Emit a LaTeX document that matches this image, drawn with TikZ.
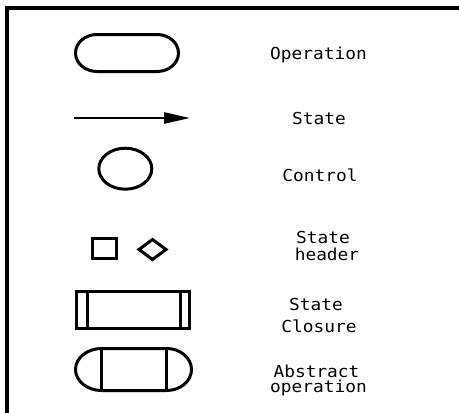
\documentclass[tikz,border=0pt]{standalone}
\usepackage{fontspec}
\newfontfamily\lblfont{DejaVu Sans Mono}
\usetikzlibrary{arrows.meta,shapes.geometric}
\newcommand{\wide}[1]{\scalebox{1.08}[1]{#1}}
\tikzset{
  shp/.style={draw=black, line width=3pt},
  lbl/.style={font=\lblfont\fontsize{16.5pt}{17pt}\selectfont, inner sep=0pt, anchor=base},
}
\begin{document}
\begin{tikzpicture}[x=1pt,y=-1pt]
\useasboundingbox (0,0) rectangle (459,413);
% frame
\draw[line width=4pt, line cap=butt, line join=miter] (7,413) -- (7,8) -- (459,8);
% Operation
\draw[shp] (97,34.5) -- (157,34.5) arc[start angle=-90, end angle=90, x radius=21.5, y radius=18.5] -- (97,71.5) arc[start angle=90, end angle=270, x radius=21.5, y radius=18.5] -- cycle;
\node[lbl] (op) at (318.5,59) {\wide{Operation}};
% State arrow
\coordinate (a1) at (74,118);
\coordinate (a2) at (190,118);
\draw[line width=2.5pt, -{Triangle[length=26pt,width=11pt]}] (a1) -- (a2);
\node[lbl] (st) at (319,124) {\wide{State}};
% Control
\node[shp, ellipse, minimum width=53pt, minimum height=41pt, inner sep=0pt] (ctl) at (125.3,168.7) {};
\node[lbl] (ct) at (320,181) {\wide{Control}};
% State header
\node[shp, rectangle, minimum width=24pt, minimum height=20pt, inner sep=0pt] (sq) at (104.5,248.5) {};
\draw[shp, line join=miter] (152.5,239.5) -- (166,249.5) -- (152.5,259.5) -- (139,249.5) -- cycle;
\node[lbl] (sh1) at (323,243) {\wide{State}};
\node[lbl] (sh2) at (327,260) {\wide{header}};
% State closure
\draw[shp] (76.5,291.5) rectangle (189.5,328.5);
\draw[shp] (87.5,291.5) -- (87.5,328.5);
\draw[shp] (180,291.5) -- (180,328.5);
\node[lbl] (sc1) at (316,310) {\wide{State}};
\node[lbl] (sc2) at (319,332) {\wide{Closure}};
% Abstract operation
\draw[shp] (101.7,348.5) -- (166.7,348.5) arc[start angle=-90, end angle=90, x radius=24.8, y radius=21] -- (101.7,390.5) arc[start angle=90, end angle=270, x radius=26.2, y radius=21] -- cycle;
\draw[shp] (101.7,348.5) -- (101.7,390.5);
\draw[shp] (166.7,348.5) -- (166.7,390.5);
\node[lbl] (ao1) at (316.5,377) {\wide{Abstract}};
\node[lbl] (ao2) at (318.5,392) {\wide{operation}};
\end{tikzpicture}
\end{document}
